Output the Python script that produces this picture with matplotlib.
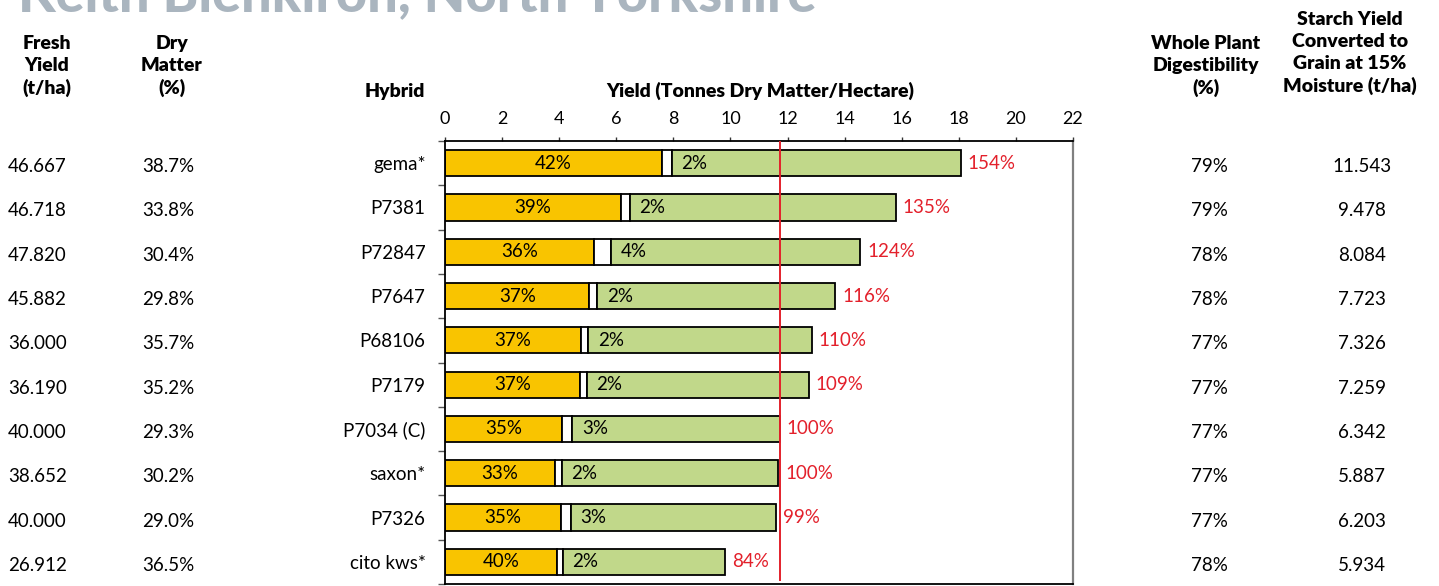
import numpy as np
import matplotlib
matplotlib.use("Agg")
import matplotlib.pyplot as plt
from matplotlib.transforms import blended_transform_factory

# Table / chart data
hybrids = ["gema*", "P7381", "P72847", "P7647", "P68106", "P7179",
           "P7034 (C)", "saxon*", "P7326", "cito kws*"]
fresh_yield = [46.667, 46.718, 47.820, 45.882, 36.000, 36.190, 40.000, 38.652, 40.000, 26.912]
dry_matter = [38.7, 33.8, 30.4, 29.8, 35.7, 35.2, 29.3, 30.2, 29.0, 36.5]
dm_yield = [18.06, 15.79, 14.54, 13.67, 12.85, 12.74, 11.72, 11.67, 11.60, 9.82]
grain_pct = [42, 39, 36, 37, 37, 37, 35, 33, 35, 40]
white_pct = [2, 2, 4, 2, 2, 2, 3, 2, 3, 2]
rel_yield = [154, 135, 124, 116, 110, 109, 100, 100, 99, 84]
digestibility = [79, 79, 78, 78, 77, 77, 77, 77, 77, 78]
starch_yield = [11.543, 9.478, 8.084, 7.723, 7.326, 7.259, 6.342, 5.887, 6.203, 5.934]
control_yield = 11.72
x_ticks = list(range(0, 23, 2))

YELLOW = "#f9c400"
GREEN = "#c1d88a"
RED = "#e3202b"

plt.rcParams["font.family"] = ["Lato", "DejaVu Sans"]

W, H = 1439, 586
fig = plt.figure(figsize=(W / 100, H / 100), dpi=100)


def fx(px):
    return px / W


def fy(py):
    return 1 - py / H


# axes box in pixel terms: x 445..1073, y 141..584
ax = fig.add_axes([fx(445), fy(584), fx(1073) - fx(445), fy(141) - fy(584)])

y = np.arange(len(hybrids))
total = np.array(dm_yield)
grain = total * np.array(grain_pct) / 100
white = total * np.array(white_pct) / 100
rest = total - grain - white

bh = 0.59
ax.barh(y, grain, height=bh, color=YELLOW, edgecolor="black", linewidth=1.3, zorder=2)
ax.barh(y, white, left=grain, height=bh, color="white", edgecolor="black", linewidth=1.3, zorder=2)
ax.barh(y, rest, left=grain + white, height=bh, color=GREEN, edgecolor="black", linewidth=1.3, zorder=2)

# Bar labels
for i in range(len(hybrids)):
    ax.text(grain[i] / 2, y[i], f"{grain_pct[i]}%", ha="center", va="center",
            fontsize=13.5, color="black", zorder=4)
    ax.annotate(f"{white_pct[i]}%", (grain[i] + white[i], y[i]), xytext=(7, 0),
                textcoords="offset points", ha="left", va="center",
                fontsize=13.5, color="black", zorder=4)
    ax.annotate(f"{rel_yield[i]}%", (total[i], y[i]), xytext=(5, 0),
                textcoords="offset points", ha="left", va="center",
                fontsize=13.5, color=RED, zorder=4)

ax.axvline(control_yield, ymin=0.01, ymax=1, color=RED, linewidth=1.4, zorder=3)

ax.set_xlim(0, 22)
ax.set_ylim(len(hybrids) - 0.5, -0.5)

ax.xaxis.tick_top()
ax.set_xticks(x_ticks)
ax.tick_params(axis="x", direction="out", length=3, width=1, pad=7, labelsize=13,
               color="#333333")

ax.set_yticks(y)
ax.set_yticklabels(hybrids, fontsize=13.5)
ax.tick_params(axis="y", which="major", length=0, pad=14)
ax.set_yticks(np.arange(-0.5, len(hybrids), 1), minor=True)
ax.tick_params(axis="y", which="minor", direction="out", length=5, width=1, color="#555555")

for side in ["left", "top", "bottom"]:
    ax.spines[side].set_color("black")
    ax.spines[side].set_linewidth(1.3)
ax.spines["right"].set_color("#808080")
ax.spines["right"].set_linewidth(1.6)

# Table columns beside the chart
row_tr = blended_transform_factory(fig.transFigure, ax.transData)
for i in range(len(hybrids)):
    yy = y[i] + 0.08
    fig.text(fx(8), yy, f"{fresh_yield[i]:.3f}", transform=row_tr, ha="left", va="center", fontsize=13.5)
    fig.text(fx(168), yy, f"{dry_matter[i]:.1f}%", transform=row_tr, ha="center", va="center", fontsize=13.5)
    fig.text(fx(1209), yy, f"{digestibility[i]}%", transform=row_tr, ha="center", va="center", fontsize=13.5)
    fig.text(fx(1362), yy, f"{starch_yield[i]:.3f}", transform=row_tr, ha="center", va="center", fontsize=13.5)

# Headers
hdr = dict(fontsize=14, fontweight="heavy", ha="center", va="center", linespacing=1.35,
           multialignment="center")
fig.text(fx(47), fy(66), "Fresh\nYield\n(t/ha)", **hdr)
fig.text(fx(172), fy(66), "Dry\nMatter\n(%)", **hdr)
fig.text(fx(1206), fy(66), "Whole Plant\nDigestibility\n(%)", **hdr)
fig.text(fx(1350), fy(53), "Starch Yield\nConverted to\nGrain at 15%\nMoisture (t/ha)", **hdr)
fig.text(fx(425), fy(91), "Hybrid", fontsize=14, fontweight="heavy", ha="right", va="center")
fig.text(fx(760), fy(91), "Yield (Tonnes Dry Matter/Hectare)", fontsize=14, fontweight="heavy",
         ha="center", va="center")

# Title, mostly cut off by the top edge
fig.text(fx(18), fy(11), "Keith Blenkiron, North Yorkshire", fontsize=39, fontweight="black",
         color="#aab5bf", ha="left", va="baseline")

fig.savefig("out.png", dpi=100)
